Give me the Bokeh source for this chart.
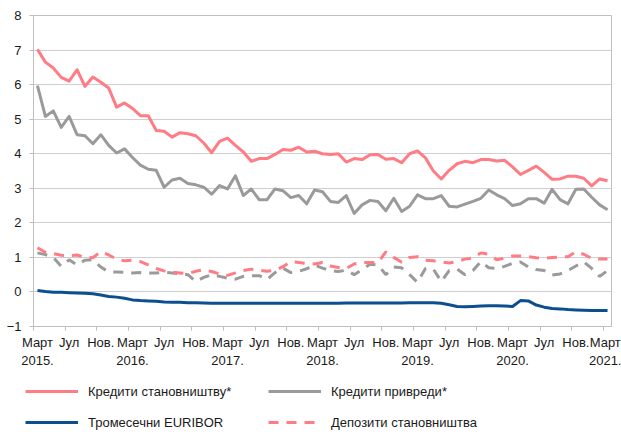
from bokeh.plotting import figure
from bokeh.models import FixedTicker, Legend, LegendItem, Range1d
from bokeh.embed import file_html
from bokeh.resources import INLINE

# Monthly data, March 2015 (index 0) to March 2021 (index 72)
months = list(range(73))

household_loans = [
    7.02, 6.65, 6.48, 6.21, 6.10, 6.43, 5.95, 6.22, 6.07, 5.90, 5.35, 5.47, 5.31, 5.10, 5.10, 4.67, 4.65, 4.48, 4.61, 4.58, 4.52, 4.31, 4.03, 4.36, 4.45,
    4.24, 4.05, 3.78, 3.86, 3.86, 3.98, 4.12, 4.10, 4.19, 4.05, 4.07, 4.00, 3.98, 4.00, 3.76, 3.86, 3.83, 3.97, 3.98, 3.84, 3.86, 3.74, 4.00, 4.08,
    3.88, 3.50, 3.27, 3.52, 3.71, 3.78, 3.74, 3.83, 3.83, 3.79, 3.81, 3.62, 3.40, 3.52, 3.64, 3.46, 3.26, 3.27, 3.35, 3.35, 3.29, 3.07, 3.27, 3.22,
]

corporate_loans = [
    5.97, 5.08, 5.24, 4.76, 5.08, 4.55, 4.52, 4.29, 4.55, 4.24, 4.02, 4.14, 3.89, 3.67, 3.55, 3.52, 3.03, 3.24, 3.29, 3.14, 3.10, 3.03, 2.83, 3.08, 2.98,
    3.36, 2.79, 2.98, 2.67, 2.67, 2.98, 2.93, 2.73, 2.79, 2.55, 2.95, 2.90, 2.62, 2.59, 2.79, 2.27, 2.52, 2.65, 2.62, 2.35, 2.71, 2.33, 2.48, 2.81,
    2.70, 2.70, 2.79, 2.48, 2.46, 2.54, 2.62, 2.71, 2.95, 2.81, 2.70, 2.50, 2.55, 2.70, 2.70, 2.57, 2.97, 2.67, 2.55, 2.97, 2.98, 2.74, 2.52, 2.38,
]

euribor_3m = [
    0.04, 0.01, -0.01, -0.01, -0.02, -0.03, -0.04, -0.05, -0.09, -0.13, -0.15, -0.18, -0.23, -0.25, -0.26, -0.27, -0.29, -0.30, -0.30, -0.31, -0.31, -0.32, -0.33, -0.33, -0.33,
    -0.33, -0.33, -0.33, -0.33, -0.33, -0.33, -0.33, -0.33, -0.33, -0.33, -0.33, -0.33, -0.33, -0.33, -0.32, -0.32, -0.32, -0.32, -0.32, -0.32, -0.32, -0.32, -0.31, -0.31,
    -0.31, -0.31, -0.33, -0.37, -0.42, -0.43, -0.42, -0.41, -0.40, -0.40, -0.41, -0.42, -0.25, -0.26, -0.38, -0.44, -0.48, -0.49, -0.51, -0.52, -0.53, -0.54, -0.54, -0.54,
]

household_deposits = [
    1.28, 1.15, 1.11, 1.06, 1.05, 1.07, 1.00, 0.99, 1.17, 1.07, 0.95, 0.90, 0.92, 0.88, 0.78, 0.68, 0.61, 0.57, 0.55, 0.53, 0.60, 0.64, 0.59, 0.52, 0.48,
    0.55, 0.62, 0.66, 0.63, 0.60, 0.62, 0.73, 0.88, 0.85, 0.82, 0.81, 0.85, 0.75, 0.71, 0.68, 0.81, 0.85, 0.85, 0.85, 1.16, 1.00, 0.86, 1.00, 1.02,
    0.92, 0.90, 0.87, 0.84, 0.88, 0.95, 0.98, 1.13, 1.09, 0.93, 0.98, 1.04, 1.04, 1.02, 0.99, 0.97, 1.00, 1.01, 1.02, 1.16, 1.09, 0.97, 0.95, 0.95,
]

corporate_deposits = [
    1.13, 1.08, 1.00, 0.74, 0.93, 0.78, 0.92, 0.93, 0.72, 0.58, 0.58, 0.57, 0.55, 0.56, 0.55, 0.55, 0.57, 0.55, 0.53, 0.50, 0.30, 0.42, 0.50, 0.45, 0.40,
    0.37, 0.45, 0.47, 0.47, 0.36, 0.56, 0.69, 0.56, 0.60, 0.67, 0.78, 0.69, 0.62, 0.59, 0.63, 0.50, 0.65, 0.80, 0.78, 0.50, 0.72, 0.70, 0.50, 0.28,
    0.68, 0.66, 0.30, 0.62, 0.66, 0.50, 0.62, 0.88, 0.70, 0.68, 0.74, 0.83, 0.87, 0.72, 0.65, 0.62, 0.49, 0.52, 0.62, 0.75, 0.87, 0.68, 0.45, 0.62,
]

tick_positions = list(range(0, 73, 4))
tick_labels = [
    "Март\n2015.", "Јул", "Нов.", "Март\n2016.", "Јул", "Нов.", "Март\n2017.", "Јул", "Нов.",
    "Март\n2018.", "Јул", "Нов.", "Март\n2019.", "Јул", "Нов.", "Март\n2020.", "Јул", "Нов.", "Март\n2021.",
]
boundary_ticks = [t - 0.5 for t in tick_positions]
y_ticks = list(range(-1, 9))

legend_labels = ["Кредити становништву*", "Кредити привреди*", "Тромесечни EURIBOR", "Депозити становништва"]

PINK = "#FF7C84"
GRAY = "#9A9A9A"
BLUE = "#0B4F8E"
AXIS = "#BFBFBF"
FONT = "Liberation Sans"
TEXT = "#1a1a1a"
DASH = "10 8"

# ---------------- main chart ----------------
p = figure(
    width=621, height=370,
    x_range=Range1d(-0.5, 72.5), y_range=Range1d(-1, 8),
    output_backend="svg", toolbar_location=None,
    min_border_left=33, min_border_top=15, min_border_right=10, min_border_bottom=39,
    background_fill_color="white", border_fill_color="white",
)
p.outline_line_color = AXIS

p.yaxis.ticker = FixedTicker(ticks=y_ticks)
p.yaxis.axis_line_color = AXIS
p.yaxis.major_tick_line_color = AXIS
p.yaxis.major_tick_out = 4
p.yaxis.major_tick_in = 0
p.yaxis.minor_tick_line_color = None
p.yaxis.major_label_standoff = 8
p.yaxis.major_label_text_font = FONT
p.yaxis.major_label_text_font_size = "13px"
p.yaxis.major_label_text_color = TEXT

p.ygrid.ticker = FixedTicker(ticks=y_ticks)
p.ygrid.grid_line_color = "#CFCFCF"
p.xgrid.visible = False

xa = p.xaxis[0]
xa.ticker = FixedTicker(ticks=tick_positions, minor_ticks=boundary_ticks)
xa.major_label_overrides = {pos: lab for pos, lab in zip(tick_positions, tick_labels)}
xa.axis_line_color = AXIS
xa.major_tick_line_color = None
xa.major_tick_out = 0
xa.major_tick_in = 0
xa.minor_tick_line_color = AXIS
xa.minor_tick_out = 4
xa.minor_tick_in = 0
xa.major_label_standoff = 4
xa.major_label_text_font = FONT
xa.major_label_text_font_size = "13px"
xa.major_label_text_color = TEXT

p.line(months, corporate_deposits, line_color=GRAY, line_width=3, line_dash=DASH)
p.line(months, household_deposits, line_color=PINK, line_width=3, line_dash=DASH)
p.line(months, euribor_3m, line_color=BLUE, line_width=3, line_join="round")
p.line(months, corporate_loans, line_color=GRAY, line_width=3, line_join="round")
p.line(months, household_loans, line_color=PINK, line_width=3, line_join="round")

# ---------------- legend strip (series drawn outside its visible range) ----------------
lg = figure(
    width=621, height=69, output_backend="svg", toolbar_location=None,
    x_axis_type=None, y_axis_type=None,
    x_range=Range1d(-0.5, 72.5), y_range=Range1d(100, 101),
    min_border=0, border_fill_color="white", background_fill_color="white",
)
lg.outline_line_color = None
lg.grid.visible = False
series = [household_loans, corporate_loans, euribor_3m, household_deposits]
styles = [(PINK, "solid"), (GRAY, "solid"), (BLUE, "solid"), (PINK, DASH)]
items = []
for lab, vals, (col, dash) in zip(legend_labels, series, styles):
    r = lg.line(months, vals, line_color=col, line_width=3, line_dash=dash)
    items.append(LegendItem(label=lab, renderers=[r]))

legend = Legend(
    items=items, location=(25, 7), orientation="horizontal", ncols=2,
    glyph_width=53, glyph_height=20, label_width=169, label_height=20,
    label_standoff=10, spacing=11, padding=0, margin=0,
    border_line_color=None, background_fill_alpha=0,
    label_text_font=FONT, label_text_font_size="13px", label_text_color=TEXT,
)
lg.add_layout(legend, "center")

open("out.html", "w").write(file_html([p, lg], INLINE))
